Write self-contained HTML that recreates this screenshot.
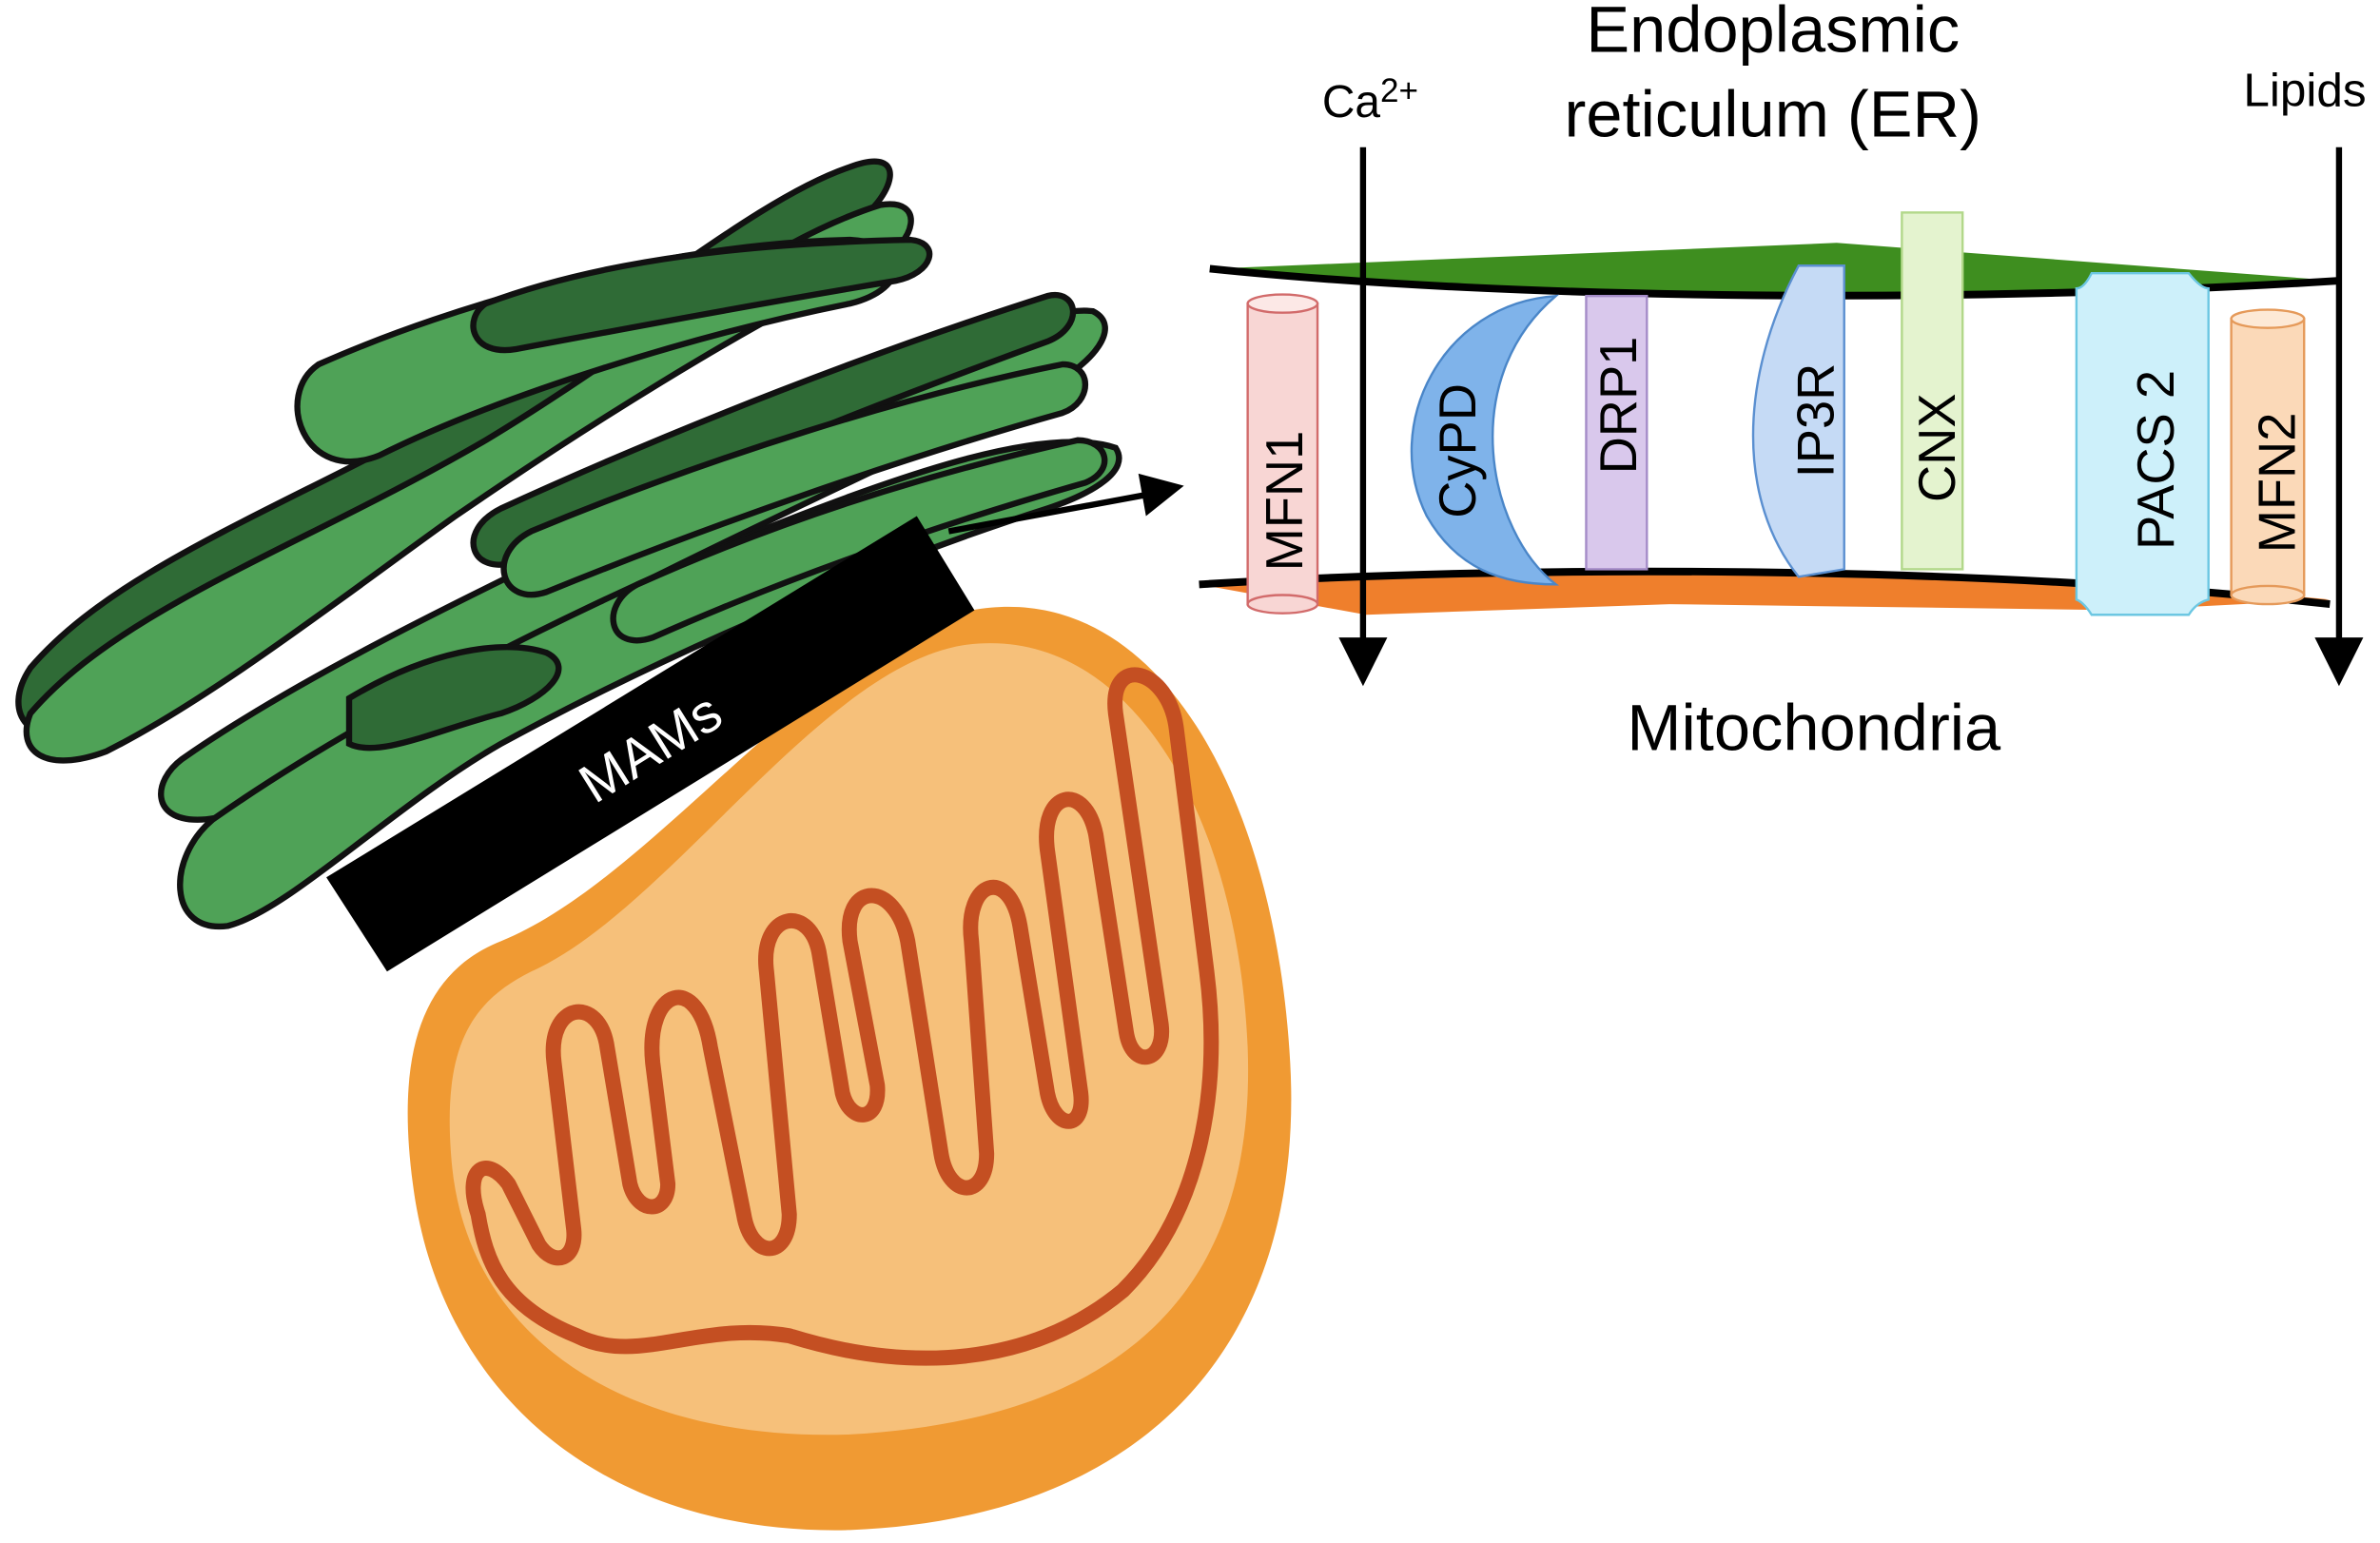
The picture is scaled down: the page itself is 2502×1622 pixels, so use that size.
<!DOCTYPE html>
<html><head><meta charset="utf-8"><style>
html,body{margin:0;padding:0;background:#fff;}
svg{display:block;}
text{font-family:"Liberation Sans",sans-serif;}
</style></head><body>
<svg width="2502" height="1622" viewBox="0 0 1568 1016.5" xmlns="http://www.w3.org/2000/svg">
<path d="M640,402 C760,380 840,520 850,700 C860,880 760,1000 560,1008 C400,1012 290,920 272,780 C260,690 280,640 330,620 C430,580 540,420 640,402 Z" fill="#f09a33"/>
<path d="M635,425 C740,410 815,530 822,690 C828,850 740,935 560,945 C410,950 310,880 298,770 C290,690 310,660 350,640 C440,600 540,440 635,425 Z" fill="#f6c07a"/>
<path d="M315,800 C305,770 320,760 335,780 L355,820 C365,835 380,830 378,810 L365,700 C360,660 395,655 400,690 L415,780 C420,800 440,800 440,780 L430,700 C425,650 460,640 468,690 L490,800 C495,830 520,830 520,800 L505,640 C500,600 535,595 540,630 L555,720 C560,740 580,740 578,715 L560,620 C555,580 590,580 598,620 L620,760 C625,790 650,790 650,760 L640,620 C635,580 665,570 672,610 L690,720 C695,745 715,745 712,720 L690,560 C685,520 715,515 722,550 L742,680 C746,705 768,700 765,675 L735,470 C730,430 770,440 775,480 L795,640 C805,720 790,800 740,850 C680,900 600,905 520,880 C460,870 420,900 380,880 C330,860 320,830 315,800 Z" fill="none" stroke="#c44f22" stroke-width="10" stroke-linejoin="round"/>
<g stroke="#111" stroke-width="4">
<path d="M20,440 C80,370 200,330 320,260 C420,200 500,130 560,110 C600,95 590,130 560,150 C480,190 360,260 290,320 C220,380 130,450 60,480 C20,495 0,470 20,440 Z" fill="#2f6b36"/>
<path d="M20,470 C80,400 200,360 320,290 C420,230 500,160 580,135 C610,130 605,160 575,175 C490,215 380,285 300,340 C230,390 140,460 70,495 C30,510 10,495 20,470 Z" fill="#4fa257"/>
<path d="M210,240 C300,200 440,160 560,158 C600,160 600,190 560,200 C460,220 330,260 250,300 C200,320 180,260 210,240 Z" fill="#4fa257"/>
<path d="M320,200 C400,170 500,160 600,158 C620,160 615,180 590,185 C500,200 420,215 340,230 C310,235 305,210 320,200 Z" fill="#2f6b36"/>
<path d="M120,500 C220,430 380,360 500,300 C600,250 680,200 720,205 C740,215 720,240 690,255 C580,310 420,380 300,450 C220,500 170,540 130,540 C100,540 100,515 120,500 Z" fill="#4fa257"/>
<path d="M330,335 C450,280 580,230 690,195 C710,190 715,215 690,225 C580,265 440,320 340,370 C310,380 300,350 330,335 Z" fill="#2f6b36"/>
<path d="M350,350 C470,300 600,260 700,240 C720,240 720,265 700,272 C600,300 470,345 360,390 C330,400 320,365 350,350 Z" fill="#4fa257"/>
<path d="M140,540 C240,470 380,400 500,350 C600,310 690,280 735,295 C745,310 720,325 690,335 C580,370 440,430 330,490 C260,530 190,600 150,610 C110,615 110,565 140,540 Z" fill="#4fa257"/>
<path d="M420,385 C520,340 620,310 710,290 C730,290 735,310 715,318 C620,345 520,380 430,420 C400,430 395,398 420,385 Z" fill="#4fa257"/>
<path d="M230,460 C280,430 330,420 360,430 C380,440 360,460 330,470 C290,480 250,500 230,490 Z" fill="#2f6b36"/>
</g>
<polygon points="215,578 255,640 642,402 604,340" fill="#000"/>
<text x="435" y="503" font-size="36" fill="#fff" text-anchor="middle" transform="rotate(-32 435 503)">MAMs</text>
<line x1="625" y1="350" x2="755" y2="326" stroke="#000" stroke-width="4"/>
<polygon points="750,312 780,320 755,340" fill="#000"/>
<text x="1168" y="34" font-size="43" text-anchor="middle">Endoplasmic</text>
<text x="1168" y="90" font-size="43" text-anchor="middle">reticulum (ER)</text>
<text x="871" y="77" font-size="30">Ca<tspan font-size="22" dy="-10">2+</tspan></text>
<text x="1478" y="70" font-size="31">Lipids</text>
<path d="M800,177 L1210,160 L1540,185 C1300,200 1000,198 800,177 Z" fill="#3e8e1f"/>
<path d="M797,177 C1000,198 1300,200 1540,185" fill="none" stroke="#000" stroke-width="5"/>
<path d="M790,385 C1000,372 1300,372 1535,395 L1400,402 L1100,398 L900,405 Z" fill="#ef7f2c"/>
<path d="M790,385 C1000,372 1300,372 1535,398" fill="none" stroke="#000" stroke-width="5"/>
<rect x="822" y="200" width="46" height="198" fill="#f8d6d4" stroke="#d26b6b" stroke-width="1.5"/>
<ellipse cx="845" cy="200" rx="23" ry="6" fill="#fce8e6" stroke="#d26b6b" stroke-width="1.5"/>
<ellipse cx="845" cy="398" rx="23" ry="6" fill="#f8d6d4" stroke="#d26b6b" stroke-width="1.5"/>
<text transform="translate(858 330) rotate(-90)" font-size="34" text-anchor="middle">MFN1</text>
<path d="M1025,195 C950,200 910,280 940,340 C960,375 990,385 1025,385 C980,350 960,250 1025,195 Z" fill="#7fb3ea" stroke="#4a86c8" stroke-width="1.5"/>
<text transform="translate(972 297) rotate(-90)" font-size="34" text-anchor="middle">CyPD</text>
<rect x="1045" y="195" width="40" height="180" fill="#d9c8ec" stroke="#a58cc8" stroke-width="1.5"/>
<text transform="translate(1078 267) rotate(-90)" font-size="34" text-anchor="middle">DRP1</text>
<path d="M1215,175 L1185,175 C1145,250 1145,330 1185,380 L1215,375 Z" fill="#c5daf5" stroke="#5a8fd0" stroke-width="1.5"/>
<text transform="translate(1208 277) rotate(-90)" font-size="34" text-anchor="middle">IP3R</text>
<rect x="1253" y="140" width="40" height="235" fill="#e4f3cf" stroke="#b2d88a" stroke-width="1.5"/>
<text transform="translate(1288 295) rotate(-90)" font-size="34" text-anchor="middle">CNX</text>
<path d="M1378,180 L1442,180 Q1450,190 1455,190 L1455,395 Q1447,397 1442,405 L1378,405 Q1373,397 1368,395 L1368,190 Q1373,190 1378,180 Z" fill="#cdf0fa" stroke="#6cc7e2" stroke-width="1.5"/>
<text transform="translate(1432 303) rotate(-90)" font-size="34" text-anchor="middle">PACS 2</text>
<rect x="1470" y="210" width="48" height="182" fill="#fbd9b8" stroke="#e59a5a" stroke-width="1.5"/>
<ellipse cx="1494" cy="210" rx="24" ry="6" fill="#fde9d6" stroke="#e59a5a" stroke-width="1.5"/>
<ellipse cx="1494" cy="392" rx="24" ry="6" fill="#fbd9b8" stroke="#e59a5a" stroke-width="1.5"/>
<text transform="translate(1512 318) rotate(-90)" font-size="34" text-anchor="middle">MFN2</text>
<line x1="898" y1="97" x2="898" y2="425" stroke="#000" stroke-width="4"/>
<polygon points="882,420 914,420 898,452" fill="#000"/>
<line x1="1541" y1="97" x2="1541" y2="425" stroke="#000" stroke-width="4"/>
<polygon points="1525,420 1557,420 1541,452" fill="#000"/>
<text x="1195" y="494" font-size="43" text-anchor="middle">Mitochondria</text>
</svg>
</body></html>
